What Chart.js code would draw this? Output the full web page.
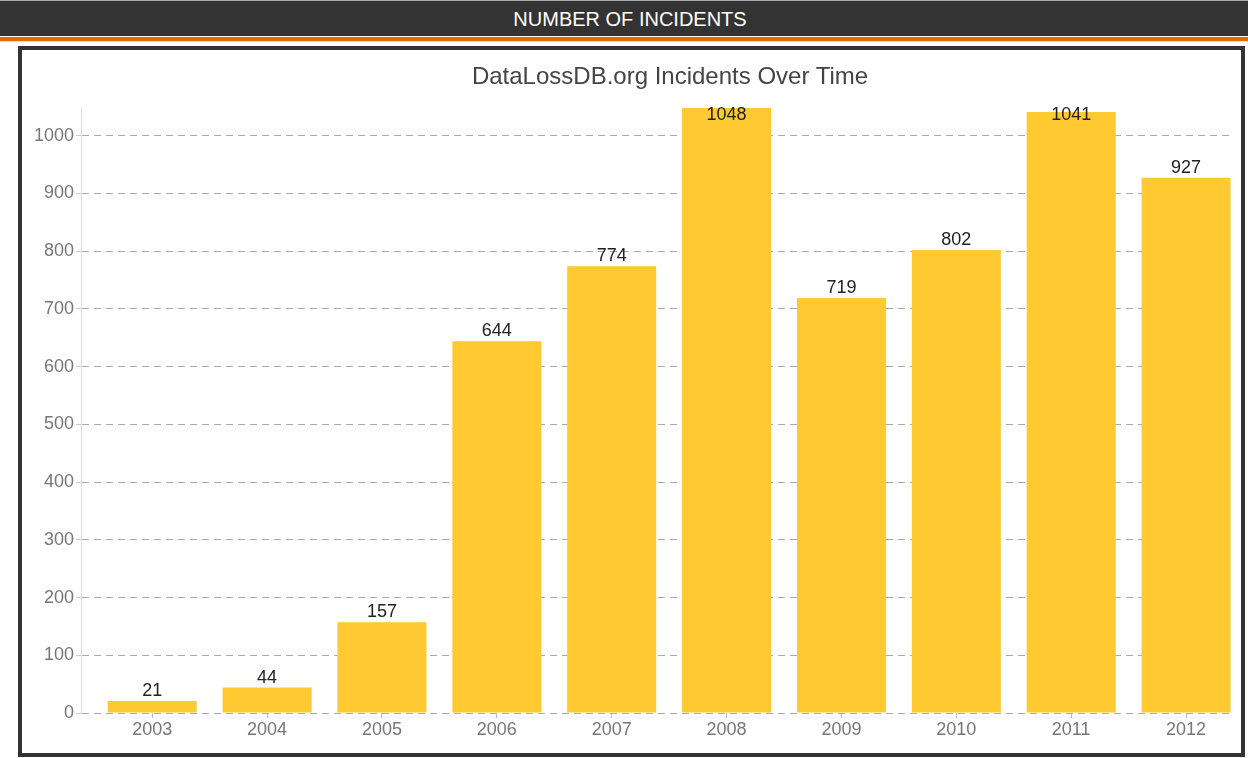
<!DOCTYPE html>
<html>
<head>
<meta charset="utf-8">
<script src="https://cdn.jsdelivr.net/npm/chart.js@4.4.1/dist/chart.umd.min.js"></script>
<style>
  body { margin: 0; background: #fff; font-family: "Liberation Sans", Arial, sans-serif; }
  #header {
    position: absolute; left: 0; top: 0; width: 1248px; height: 36px;
    background: #333; border-top: 1px solid #aaa; box-sizing: border-box;
    color: #fff; font-size: 20px; text-align: center; line-height: 36px; padding-left: 12px;
  }
  #stripe { position: absolute; left: 0; top: 37px; width: 1248px; height: 4px; background: #e06b00; }
  #stripe2 { position: absolute; left: 0; top: 41px; width: 1248px; height: 1px; background: #f3d9bf; }
  #box {
    position: absolute; left: 18px; top: 46px; width: 1227px; height: 711px;
    border: 4px solid #333; box-sizing: border-box; background: #fff;
  }
  #title {
    position: absolute; left: 420px; top: 62px; width: 500px; text-align: center;
    font-size: 24px; color: #444;
  }
  #wrap { position: absolute; left: 22px; top: 50px; width: 1219px; height: 704px; }
</style>
</head>
<body>
<div id="header">NUMBER OF INCIDENTS</div>
<div id="stripe"></div>
<div id="stripe2"></div>
<div id="box"></div>
<div id="wrap"><canvas id="incChart"></canvas></div>
<div id="title">DataLossDB.org Incidents Over Time</div>
<script>
const years = ['2003', '2004', '2005', '2006', '2007', '2008', '2009', '2010', '2011', '2012'];
const incidents = [21, 44, 157, 644, 774, 1048, 719, 802, 1041, 927];
const yTicks = [0, 100, 200, 300, 400, 500, 600, 700, 800, 900, 1000];

const FONT = '"Liberation Sans", Arial, sans-serif';

// value labels above each bar, kept inside the plot area at the top
const barLabels = {
    id: 'barLabels',
    afterDatasetsDraw(chart) {
        const ctx = chart.ctx;
        const top = chart.chartArea.top;
        ctx.save();
        ctx.font = '18px ' + FONT;
        ctx.fillStyle = '#222';
        ctx.textAlign = 'center';
        ctx.textBaseline = 'middle';
        chart.getDatasetMeta(0).data.forEach((bar, i) => {
            const y = Math.max(bar.y - 10, top + 7);
            ctx.fillText(incidents[i], bar.x, y);
        });
        ctx.restore();
    }
};

// the plot starts a little left of the first year, as in the original
const points = incidents.map((v, i) => ({ x: i, y: v }));

const ctx = document.getElementById('incChart').getContext('2d');
new Chart(ctx, {
    type: 'bar',
    data: {
        datasets: [{
            label: 'Incidents',
            data: points,
            backgroundColor: '#fec931',
            borderWidth: 0,
            barPercentage: 0.775,
            categoryPercentage: 1.0
        }]
    },
    options: {
        responsive: true,
        maintainAspectRatio: false,
        animation: false,
        layout: { padding: { top: 58, right: 9, left: 0, bottom: 1 } },
        plugins: {
            legend: { display: false },
            tooltip: { enabled: false }
        },
        scales: {
            x: {
                type: 'linear',
                min: -0.62,
                max: 9.4,
                offset: false,
                afterFit: (s) => { s.height = 40; },
                afterBuildTicks: (s) => { s.ticks = years.map((y, i) => ({ value: i })); },
                grid: { offset: false, drawOnChartArea: false, drawTicks: true, tickLength: 5, color: '#bbb' },
                border: { display: false },
                ticks: {
                    color: '#777', font: { size: 18, family: FONT }, padding: 1,
                    callback: (v) => years[v]
                }
            },
            y: {
                min: 0,
                max: 1048,
                afterFit: (s) => { s.width = 59; },
                afterBuildTicks: (s) => { s.ticks = yTicks.map(v => ({ value: v })); },
                grid: { color: '#aaa', tickLength: 5, tickBorderDash: [], tickColor: '#ccc' },
                border: { display: true, color: '#ddd', dash: [7, 5] },
                ticks: {
                    color: '#777', font: { size: 18, family: FONT }, padding: 2,
                    callback: (v) => String(v)
                }
            }
        }
    },
    plugins: [barLabels]
});
</script>
</body>
</html>
